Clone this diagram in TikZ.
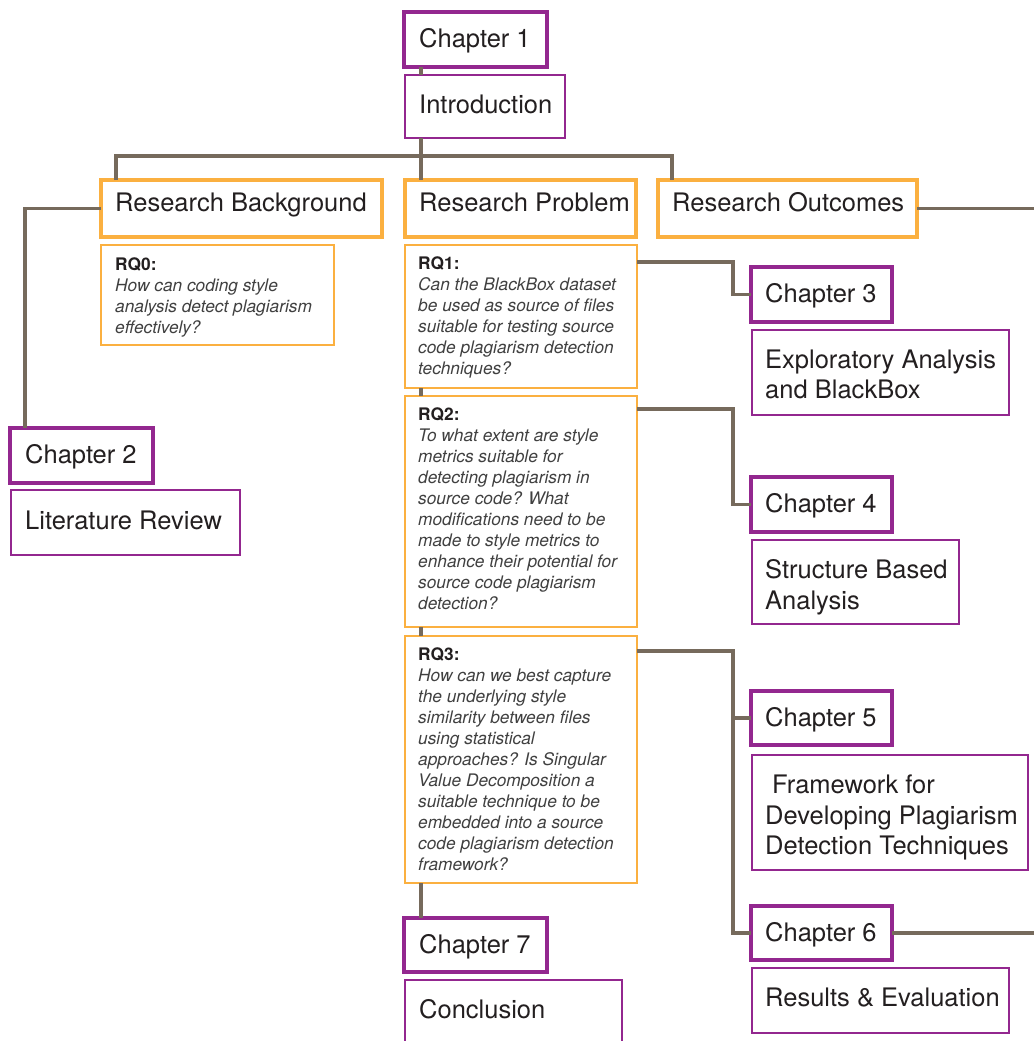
\documentclass[tikz,border=0pt]{standalone}
\usepackage{fontspec}
\setmainfont{TeX Gyre Heros}
\definecolor{plum}{HTML}{93278F}
\definecolor{amber}{HTML}{FBB040}
\definecolor{wire}{HTML}{766A5C}
\definecolor{ink}{HTML}{231F20}
\definecolor{qtext}{HTML}{404040}
\begin{document}
\begin{tikzpicture}[x=1pt,y=-1pt,
  boxframe/.style={draw, anchor=north west, inner sep=0pt, outer sep=0pt},
  chap/.style={boxframe, draw=plum, line width=3.5pt},
  desc/.style={boxframe, draw=plum, line width=1.5pt},
  topic/.style={boxframe, draw=amber, line width=3.5pt},
  rq/.style={boxframe, draw=amber, line width=1.5pt},
  big/.style={anchor=base west, inner sep=0pt, align=left, text=ink, font=\fontsize{25.5}{30}\selectfont},
  bigblock/.style={big, anchor=west, font=\fontsize{25.5}{30.5}\selectfont},
  small/.style={anchor=west, inner sep=0pt, align=left, text=qtext, font=\fontsize{17.3}{21}\selectfont\itshape},
  conn/.style={draw=wire, line width=3.5pt}
]
\fill[white] (0,0) rectangle (1034,1041);
\useasboundingbox (0,0) rectangle (1034,1041);
\coordinate (edge) at (1034,0);
\coordinate (bar) at (421,156);

% frames
\node[chap,  minimum width=143, minimum height=55] (c1) at (404,12) {};
\node[desc,  minimum width=160, minimum height=63] (intro) at (405,75) {};
\node[topic, minimum width=281, minimum height=57] (rb) at (101,180) {};
\node[topic, minimum width=231, minimum height=57] (rp) at (405,180) {};
\node[topic, minimum width=259, minimum height=57] (ro) at (658,180) {};
\node[rq,    minimum width=233, minimum height=100] (rq0) at (101,245) {};
\node[rq,    minimum width=232, minimum height=143] (rq1) at (405,245) {};
\node[rq,    minimum width=232, minimum height=231] (rq2) at (405,396) {};
\node[rq,    minimum width=232, minimum height=247] (rq3) at (405,636) {};
\node[chap,  minimum width=143, minimum height=55] (c2) at (10,428) {};
\node[desc,  minimum width=229, minimum height=65] (lit) at (11,490) {};
\node[chap,  minimum width=141, minimum height=55] (c3) at (751,267) {};
\node[desc,  minimum width=257, minimum height=85] (expl) at (752,330) {};
\node[chap,  minimum width=141, minimum height=55] (c4) at (751,477) {};
\node[desc,  minimum width=207, minimum height=84] (struct) at (752,540) {};
\node[chap,  minimum width=141, minimum height=54] (c5) at (751,691) {};
\node[desc,  minimum width=276, minimum height=115] (frame) at (752,755) {};
\node[chap,  minimum width=141, minimum height=54] (c6) at (751,906) {};
\node[desc,  minimum width=257, minimum height=65] (res) at (752,968) {};
\node[chap,  minimum width=143, minimum height=54] (c7) at (404,918) {};
\node[desc,  minimum width=217, minimum height=70] (concl) at (405,980) {};

% labels (baselines set from each frame's centre)
\node[big] (c1t) at ([xshift=15,yshift=-8.5]c1.west) {Chapter 1};
\node[big] (introt) at ([xshift=14,yshift=-6.8]intro.west) {Introduction};
\node[big] (rbt) at ([xshift=14,yshift=-3.2]rb.west) {Research Background};
\node[big] (rpt) at ([xshift=14,yshift=-3.2]rp.west) {Research Problem};
\node[big] (rot) at ([xshift=14,yshift=-3.2]ro.west) {Research Outcomes};
\node[big] (c2t) at ([xshift=15,yshift=-8]c2.west) {Chapter 2};
\node[big] (litt) at ([xshift=14,yshift=-6.5]lit.west) {Literature Review};
\node[big] (c3t) at ([xshift=14,yshift=-8]c3.west) {Chapter 3};
\node[bigblock] (explt) at ([xshift=13,yshift=-2]expl.west) {Exploratory Analysis\\and BlackBox};
\node[big] (c4t) at ([xshift=14,yshift=-8]c4.west) {Chapter 4};
\node[bigblock] (structt) at ([xshift=13,yshift=-5]struct.west) {Structure Based\\Analysis};
\node[big] (c5t) at ([xshift=14,yshift=-8]c5.west) {Chapter 5};
\node[bigblock] (framet) at ([xshift=13,yshift=-5]frame.west) {\hspace*{7pt}Framework for\\Developing Plagiarism\\Detection Techniques};
\node[big] (c6t) at ([xshift=14,yshift=-8]c6.west) {Chapter 6};
\node[big] (rest) at ([xshift=13,yshift=-6.2]res.west) {Results \& Evaluation};
\node[big] (c7t) at ([xshift=15,yshift=-8]c7.west) {Chapter 7};
\node[big] (conclt) at ([xshift=14,yshift=-3]concl.west) {Conclusion};

\node[small] (rq0t) at ([xshift=14,yshift=-2]rq0.west) {{\upshape\bfseries\color{ink}RQ0:}\\How can coding style\\analysis detect plagiarism\\effectively?};
\node[small] (rq1t) at ([xshift=13,yshift=-1]rq1.west) {{\upshape\bfseries\color{ink}RQ1:}\\Can the BlackBox dataset\\be used as source of files\\suitable for testing source\\code plagiarism detection\\techniques?};
\node[small] (rq2t) at ([xshift=13,yshift=3]rq2.west) {{\upshape\bfseries\color{ink}RQ2:}\\To what extent are style\\metrics suitable for\\detecting plagiarism in\\source code? What\\modifications need to be\\made to style metrics to\\enhance their potential for\\source code plagiarism\\detection?};
\node[small] (rq3t) at ([xshift=13]rq3.west) {{\upshape\bfseries\color{ink}RQ3:}\\How can we best capture\\the underlying style\\similarity between files\\using statistical\\approaches? Is Singular\\Value Decomposition a\\suitable technique to be\\embedded into a source\\code plagiarism detection\\framework?};

% connectors
\draw[conn] ([xshift=17]c1.south west) -- ([xshift=16]intro.north west);
\draw[conn] ([xshift=16]intro.south west) -- ([xshift=16]rp.north west);
\draw[conn] ([xshift=15]rb.north west) |- (bar) -| ([xshift=14]ro.north west);
\draw[conn] (ro.east) -- (ro.east -| edge);
\draw[conn] (rb.west) -| ([xshift=15]c2.north west);
\draw[conn] ([yshift=-17]rq1.north east) -| ([xshift=-18]c3.west) -- (c3.west);
\draw[conn] ([yshift=-13]rq2.north east) -| ([xshift=-18]c4.west) -- (c4.west);
\draw[conn] ([yshift=-15]rq3.north east) -| ([xshift=-18]c6.west) -- (c6.west);
\draw[conn] ([xshift=-18]c5.west) -- (c5.west);
\draw[conn] (c6.east) -- (c6.east -| edge);
\draw[conn] ([xshift=16]rq1.south west) -- ([xshift=16]rq2.north west);
\draw[conn] ([xshift=16]rq2.south west) -- ([xshift=16]rq3.north west);
\draw[conn] ([xshift=16]rq3.south west) -- ([xshift=17]c7.north west);
\end{tikzpicture}
\end{document}
